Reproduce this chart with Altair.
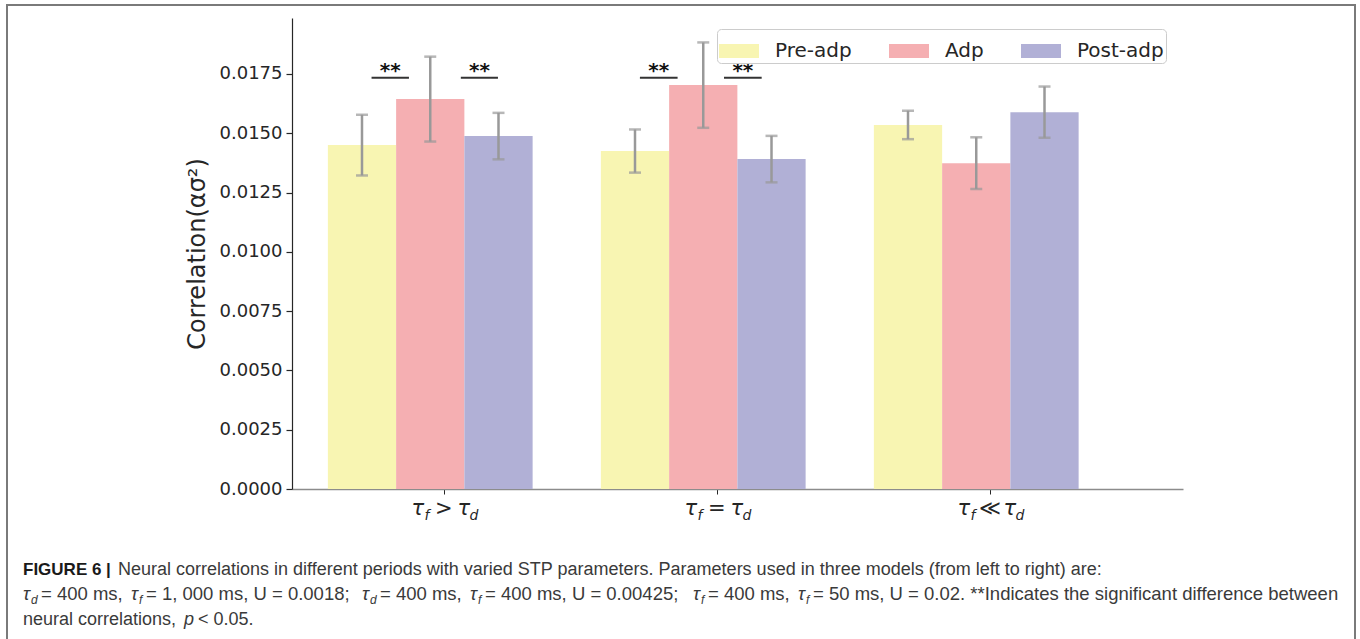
import altair as alt
import pandas as pd

# ---------------- data ----------------
groups = ["τf > τd", "τf = τd", "τf ≪ τd"]
group_syms = [">", "=", "≪"]
periods = ["Pre-adp", "Adp", "Post-adp"]
pre_means = [0.01450, 0.01425, 0.01535]
adp_means = [0.01644, 0.01703, 0.01374]
post_means = [0.01488, 0.01391, 0.01589]
pre_err = [0.00128, 0.00091, 0.00060]
adp_err = [0.00179, 0.00180, 0.00109]
post_err = [0.00098, 0.00098, 0.00108]
colors = ["#F8F5B2", "#F5AFB2", "#B1B0D6"]
bar_offsets = [0.0, 0.25, 0.5]
bar_width = 0.25
tick_positions = [0.3, 1.3, 2.3]
y_ticks = [0.0, 0.0025, 0.005, 0.0075, 0.01, 0.0125, 0.015, 0.0175]

# significance markers (**)
sig_x1 = [0.035, 0.362, 1.018, 1.326]
sig_x2 = [0.172, 0.498, 1.156, 1.464]
sig_y = 0.01734

means = [pre_means, adp_means, post_means]
errs = [pre_err, adp_err, post_err]
rows = []
for gi, g in enumerate(groups):
    for pi, p in enumerate(periods):
        xc = gi + bar_offsets[pi]
        m = means[pi][gi]
        e = errs[pi][gi]
        rows.append({"group": g, "period": p, "xc": xc,
                     "x0": xc - bar_width / 2, "x1": xc + bar_width / 2,
                     "mean": m, "base": 0.0, "lo": m - e, "hi": m + e})
df = pd.DataFrame(rows)
sig_df = pd.DataFrame({"x1": sig_x1, "x2": sig_x2,
                       "xm": [(a + b) / 2 for a, b in zip(sig_x1, sig_x2)],
                       "y": [sig_y] * len(sig_x1)})
lab_df = pd.DataFrame({"t": tick_positions, "sym": group_syms})
one = pd.DataFrame({"a": [0]})

W, H = 891, 471
xscale = alt.Scale(domain=[-0.2564, 3.0073], nice=False, zero=False)
yscale = alt.Scale(domain=[0, 0.01986], nice=False, zero=True)
TXT = "#262626"

base = alt.Chart(df)

bars = base.mark_rect(opacity=1, strokeWidth=0).encode(
    x=alt.X("x0:Q", scale=xscale,
            axis=alt.Axis(values=tick_positions, labels=False, title=None, grid=False,
                          tickSize=5, tickColor=TXT, tickWidth=1,
                          domainColor="#8c8c8c", domainWidth=1.5)),
    x2="x1:Q",
    y=alt.Y("mean:Q", scale=yscale,
            axis=alt.Axis(values=y_ticks, format=".4f", grid=False,
                          labelFont="DejaVu Sans", labelFontSize=18, labelColor=TXT,
                          tickColor=TXT, tickSize=6, tickWidth=1.2,
                          domainColor=TXT, domainWidth=1.2, labelPadding=4,
                          title="Correlation(ασ²)", titleFont="DejaVu Sans",
                          titleFontSize=24, titleFontWeight="normal", titleColor=TXT,
                          titlePadding=10)),
    y2="base:Q",
    color=alt.Color("period:N", scale=alt.Scale(domain=periods, range=colors),
                    legend=alt.Legend(title=None, orient="none", legendX=425, legendY=11,
                                      direction="horizontal",
                                      symbolType="M-1,-0.35L1,-0.35L1,0.35L-1,0.35Z",
                                      symbolSize=1600, symbolStrokeWidth=0, symbolOpacity=1,
                                      labelFont="DejaVu Sans", labelFontSize=20,
                                      labelColor=TXT, labelOffset=16, columnPadding=37,
                                      padding=2, strokeColor="#cccccc", fillColor="white",
                                      cornerRadius=4)),
)

err_rule = base.mark_rule(color="#999999", strokeWidth=2.5).encode(
    x="xc:Q", y="lo:Q", y2="hi:Q")
cap_lo = base.mark_tick(color="#999999", thickness=2.5, size=12, orient="horizontal").encode(
    x="xc:Q", y="lo:Q")
cap_hi = base.mark_tick(color="#999999", thickness=2.5, size=12, orient="horizontal").encode(
    x="xc:Q", y="hi:Q")

sig_rule = alt.Chart(sig_df).mark_rule(color="#333333", strokeWidth=2).encode(
    x="x1:Q", x2="x2:Q", y="y:Q")
sig_text = alt.Chart(sig_df).mark_text(text="**", font="DejaVu Sans", fontWeight="bold",
                                       fontSize=20, color="#111111", baseline="alphabetic",
                                       dy=-1).encode(x="xm:Q", y="y:Q")

# x tick labels built from math pieces
ly = H + 26
lab = alt.Chart(lab_df)
lab_tau1 = lab.mark_text(text="τ", font="DejaVu Sans", fontStyle="italic", fontSize=21,
                         color=TXT, align="center", baseline="alphabetic", dx=-26).encode(
    x="t:Q", y=alt.value(ly))
lab_f = lab.mark_text(text="f", font="DejaVu Sans", fontStyle="italic", fontSize=14,
                      color=TXT, align="center", baseline="alphabetic", dx=-17).encode(
    x="t:Q", y=alt.value(ly + 5))
lab_sym = lab.mark_text(font="DejaVu Sans", fontSize=21, color=TXT, align="center",
                        baseline="alphabetic", dx=0).encode(
    x="t:Q", y=alt.value(ly), text="sym:N")
lab_tau2 = lab.mark_text(text="τ", font="DejaVu Sans", fontStyle="italic", fontSize=21,
                         color=TXT, align="center", baseline="alphabetic", dx=20).encode(
    x="t:Q", y=alt.value(ly))
lab_d = lab.mark_text(text="d", font="DejaVu Sans", fontStyle="italic", fontSize=14,
                      color=TXT, align="center", baseline="alphabetic", dx=30).encode(
    x="t:Q", y=alt.value(ly + 5))

# caption
CF = "Liberation Sans"
CC = "#3a3a3a"
c1y, c2y, c3y = 557, 582, 607
cap = alt.Chart(one)


def ctext(txt, x, y, size=18, weight="normal", style="normal", color=CC):
    return cap.mark_text(text=txt, font=CF, fontSize=size, fontWeight=weight,
                         fontStyle=style, color=color, align="left",
                         baseline="alphabetic").encode(x=alt.value(x - 292), y=alt.value(y))


caption_layers = [
    ctext("FIGURE 6 |", 23, c1y, size=17, weight="bold", color="#1a1a1a"),
    ctext("Neural correlations in different periods with varied STP parameters. Parameters used in three models (from left to right) are:",
          118, c1y),
    ctext("neural correlations,", 23, c3y),
    ctext("p", 184, c3y, style="italic"),
    ctext("< 0.05.", 198, c3y),
]
chunks = [
    (23, "d", "= 400 ms,"),
    (131, "f", "= 1, 000 ms, U = 0.0018;"),
    (362, "d", "= 400 ms,"),
    (470, "f", "= 400 ms, U = 0.00425;"),
    (693, "f", "= 400 ms,"),
    (798, "f", "= 50 ms, U = 0.02. **Indicates the significant difference between"),
]
for cx, sub, rest in chunks:
    caption_layers.append(ctext("τ", cx, c2y, size=18.5, style="italic"))
    caption_layers.append(ctext(sub, cx + 8, c2y + 4, size=12, style="italic"))
    caption_layers.append(ctext(rest, cx + (18 if sub == "d" else 15), c2y, size=18.5))

frame = cap.mark_rect(fillOpacity=0, stroke="#7a7a7a", strokeWidth=2).encode(
    x=alt.value(-285), x2=alt.value(1063), y=alt.value(-13), y2=alt.value(700))

chart = alt.layer(
    bars, err_rule, cap_lo, cap_hi, sig_rule, sig_text,
    lab_tau1, lab_f, lab_sym, lab_tau2, lab_d, frame, *caption_layers
).properties(
    width=W, height=H,
    background="white",
    autosize=alt.AutoSizeParams(type="none"),
    padding={"left": 292, "top": 18, "right": 177, "bottom": 150},
).configure_view(strokeWidth=0, stroke="transparent")

chart.save("out.html", embed_options={"renderer": "svg", "actions": False})
